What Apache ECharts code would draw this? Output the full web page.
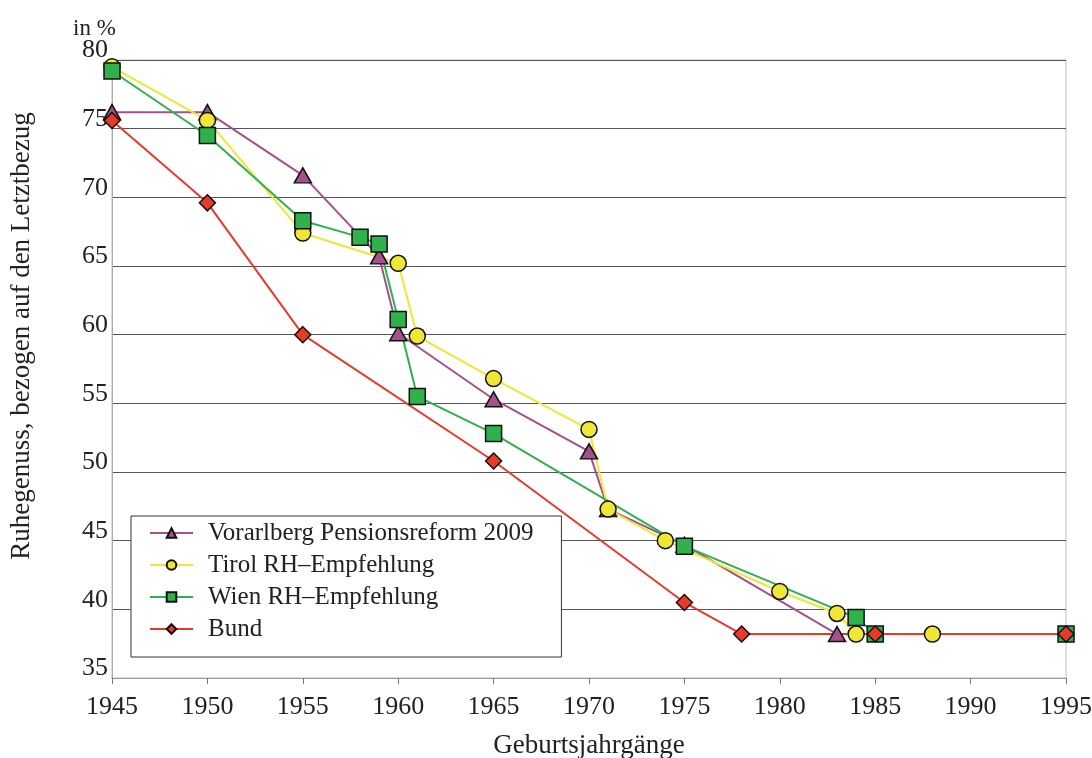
<!DOCTYPE html>
<html>
<head>
<meta charset="utf-8">
<title>Ruhegenuss nach Geburtsjahrgängen</title>
<script src="https://cdn.jsdelivr.net/npm/echarts@6/dist/echarts.min.js"></script>
<style>
  html, body {
    margin: 0;
    padding: 0;
    background: #fff;
  }
  #chart {
    width: 1092px;
    height: 758px;
  }
</style>
</head>
<body>
<div id="chart"></div>
<script>
// Werte (Jahrgang, Ruhegenuss in %)
const vorarlbergYears = [1945, 1950, 1955, 1959, 1960, 1965, 1970, 1971, 1975, 1983];
const vorarlbergValues = [76.2, 76.2, 71.6, 65.7, 60.1, 55.3, 51.5, 47.3, 44.7, 38.2];

const tirolYears = [1945, 1950, 1955, 1960, 1961, 1965, 1970, 1971, 1974, 1980, 1983, 1984, 1988];
const tirolValues = [79.5, 75.6, 67.4, 65.2, 59.9, 56.8, 53.1, 47.3, 45.0, 41.3, 39.7, 38.2, 38.2];

const wienYears = [1945, 1950, 1955, 1958, 1959, 1960, 1961, 1965, 1975, 1984, 1985, 1995];
const wienValues = [79.2, 74.5, 68.3, 67.1, 66.6, 61.1, 55.5, 52.8, 44.6, 39.4, 38.2, 38.2];

const bundYears = [1945, 1950, 1955, 1965, 1975, 1978, 1985, 1995];
const bundValues = [75.6, 69.6, 60.0, 50.8, 40.5, 38.2, 38.2, 38.2];

const seriesNames = ['Vorarlberg Pensionsreform 2009', 'Tirol RH\u2013Empfehlung', 'Wien RH\u2013Empfehlung', 'Bund'];

const font = 'Liberation Serif, Times New Roman, serif';

const toPairs = (xs, ys) => xs.map((x, i) => [x, ys[i]]);

const makeLine = (name, years, values, color, symbol, size) => ({
  name: name,
  type: 'line',
  data: toPairs(years, values),
  symbol: symbol,
  symbolSize: size,
  lineStyle: {color: color, width: 2},
  itemStyle: {color: color, borderColor: '#111', borderWidth: 1.5},
  emphasis: {disabled: true},
  z: 3
});

const chart = echarts.init(document.getElementById('chart'));

const option = {
  animation: false,
  backgroundColor: '#fff',
  title: {
    text: 'in %',
    left: 68,
    top: 12,
    textStyle: {fontFamily: font, fontSize: 23, fontWeight: 'normal', color: '#222'}
  },
  grid: {
    left: 112,
    right: 26,
    top: 60,
    bottom: 80,
    outerBoundsMode: 'none',
    show: true,
    borderColor: '#bbb',
    borderWidth: 1
  },
  legend: {
    orient: 'vertical',
    left: 131,
    top: 516,
    padding: [4, 28, 15, 18],
    itemWidth: 43,
    itemHeight: 12,
    itemGap: 6,
    backgroundColor: '#fff',
    borderColor: '#333',
    borderWidth: 1,
    borderRadius: 0,
    textStyle: {fontFamily: font, fontSize: 25, lineHeight: 26, color: '#222', padding: [0, 0, 0, 10]},
    data: seriesNames
  },
  xAxis: {
    type: 'value',
    min: 1945,
    max: 1995,
    interval: 5,
    name: 'Geburtsjahrgänge',
    nameLocation: 'middle',
    nameGap: 54,
    nameTextStyle: {fontFamily: font, fontSize: 27, color: '#222'},
    axisLine: {lineStyle: {color: '#999', width: 1}},
    axisTick: {show: true, length: 6, lineStyle: {color: '#777'}},
    axisLabel: {fontFamily: font, fontSize: 26, color: '#222', margin: 16, formatter: v => String(v)},
    splitLine: {show: false}
  },
  yAxis: {
    type: 'value',
    min: 35,
    max: 80,
    interval: 5,
    name: 'Ruhegenuss, bezogen auf den Letztbezug',
    nameLocation: 'middle',
    nameGap: 77,
    nameTextStyle: {fontFamily: font, fontSize: 27, color: '#222', padding: [0, 0, 0, 66]},
    axisLine: {show: true, lineStyle: {color: '#aaa', width: 1}},
    axisTick: {show: false},
    axisLabel: {fontFamily: font, fontSize: 26, lineHeight: 19, color: '#222', margin: 4, verticalAlign: 'bottom'},
    splitLine: {lineStyle: {color: '#555', width: 1}}
  },
  series: [
    makeLine(seriesNames[0], vorarlbergYears, vorarlbergValues, '#a3508c', 'triangle', [17, 15]),
    makeLine(seriesNames[1], tirolYears, tirolValues, '#f0e634', 'circle', 16),
    makeLine(seriesNames[2], wienYears, wienValues, '#2fb14c', 'rect', 16),
    makeLine(seriesNames[3], bundYears, bundValues, '#e8392b', 'diamond', 16)
  ]
};

chart.setOption(option);
</script>
</body>
</html>
